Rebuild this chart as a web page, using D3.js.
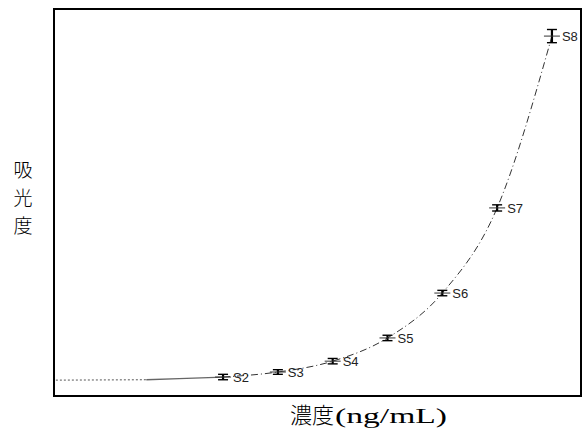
<!DOCTYPE html>
<html><head><meta charset="utf-8">
<script src="https://cdn.jsdelivr.net/npm/d3@7"></script>
<style>body{margin:0;background:#fff}svg{display:block}</style>
</head><body>
<script>
// standards (concentration index) and absorbance readings
const labels = ["S2","S3","S4","S5","S6","S7","S8"];
const conc = [2,3,4,5,6,7,8];
const absorb = [0.049,0.062,0.090,0.150,0.266,0.486,0.930];
const errs = [0.007,0.006,0.007,0.007,0.007,0.008,0.017];
// low end of the fitted curve (before S2)
const lowConc = [-1.05,0.6,1.2];
const lowAbs = [0.041,0.042,0.045];
const yLabel = "吸光度";
const xLabel = "濃度(ng/mL)";

const W=584,H=436;
const m={l:54,t:9,r:3,b:40};
const svg=d3.select("body").append("svg").attr("width",W).attr("height",H);
const x=d3.scaleLinear().domain([-1.084,8.53]).range([m.l,W-m.r]);
const y=d3.scaleLinear().domain([0,1]).range([H-m.b,m.t]);

const lowPts=lowConc.map((c,i)=>[c,lowAbs[i]]);
const pts=conc.map((c,i)=>[c,absorb[i]]);
const line=d3.line().x(d=>x(d[0])).y(d=>y(d[1])).curve(d3.curveMonotoneX);

// dotted left section
svg.append("path").attr("d",line([lowPts[0],lowPts[1]]))
  .attr("fill","none").attr("stroke","#555").attr("stroke-width",1).attr("stroke-dasharray","2,2");
// solid grey section
svg.append("path").attr("d",line([lowPts[1],lowPts[2],pts[0]]))
  .attr("fill","none").attr("stroke","#666").attr("stroke-width",1.3);
// dash-dot curve through standards
svg.append("path").attr("d",line(pts))
  .attr("fill","none").attr("stroke","#333").attr("stroke-width",1).attr("stroke-dasharray","7,3,1,3");

// error bars
const g=svg.append("g");
pts.forEach((p,i)=>{
  const cx=x(p[0]), y0=y(p[1]-errs[i]), y1=y(p[1]+errs[i]);
  g.append("line").attr("x1",cx).attr("x2",cx).attr("y1",y0).attr("y2",y1).attr("stroke","#000").attr("stroke-width",2.2);
  [y0,y1].forEach(yy=>g.append("line").attr("x1",cx-5).attr("x2",cx+5).attr("y1",yy).attr("y2",yy).attr("stroke","#000").attr("stroke-width",1.4));
  g.append("line").attr("x1",cx-8).attr("x2",cx+8).attr("y1",y(p[1])).attr("y2",y(p[1])).attr("stroke","#333").attr("stroke-width",1);
  g.append("text").attr("x",cx+10).attr("y",y(p[1])+5).text(labels[i])
    .attr("font-family","Liberation Sans, Arial, sans-serif").attr("font-size",13).attr("fill","#222");
});

// frame
svg.append("rect").attr("x",m.l).attr("y",m.t).attr("width",W-m.r-m.l).attr("height",H-m.b-m.t)
  .attr("fill","none").attr("stroke","#000").attr("stroke-width",2);

// y label (vertical stacked, one text per character)
Array.from(yLabel).forEach((ch,i)=>svg.append("text").attr("x",23).attr("y",177+i*28).text(ch)
  .attr("font-family","Noto Sans CJK JP").attr("font-size",19).attr("font-weight",300)
  .attr("text-anchor","middle").attr("fill","#000"));

// x label
svg.append("text").attr("x",290).attr("y",423).attr("font-size",22).attr("fill","#000")
  .attr("font-family","Noto Sans CJK JP").attr("font-weight",300).text(xLabel.slice(0,2));
svg.append("text").attr("x",335).attr("y",423).attr("font-size",22).attr("fill","#000")
  .attr("font-family","Liberation Serif").attr("textLength",112).attr("lengthAdjust","spacingAndGlyphs")
  .text(xLabel.slice(2));
</script>
</body></html>
